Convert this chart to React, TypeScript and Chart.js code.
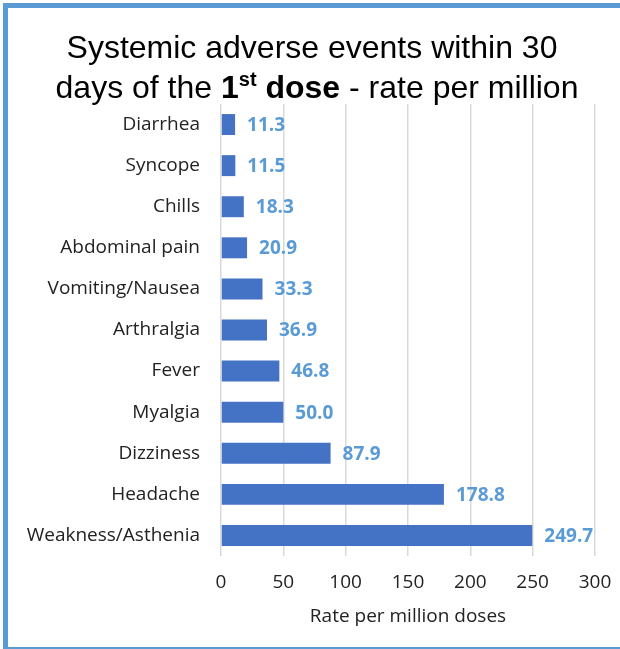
import React, { useEffect, useRef } from "react";
import { Chart, registerables } from "chart.js";

Chart.register(...registerables);

// Adverse event categories (top to bottom) and their rates per million doses
const events: string[] = [
  "Diarrhea",
  "Syncope",
  "Chills",
  "Abdominal pain",
  "Vomiting/Nausea",
  "Arthralgia",
  "Fever",
  "Myalgia",
  "Dizziness",
  "Headache",
  "Weakness/Asthenia",
];
const ratePerMillion: number[] = [11.3, 11.5, 18.3, 20.9, 33.3, 36.9, 46.8, 50.0, 87.9, 178.8, 249.7];

const axisMin = 0;
const axisMax = 300;
const axisStep = 50;
const axisTitle = "Rate per million doses";

const LABEL_FONT = "'Open Sans', 'DejaVu Sans', sans-serif";
const LABEL_SIZE = 19;
const BAR_BLUE = "#4472c4";
const LABEL_BLUE = "#5b9bd5";
const TEXT_DARK = "#222222";

// Writes each bar's value just past its end
const valueLabels = {
  id: "valueLabels",
  afterDatasetsDraw(chart: any) {
    const { ctx } = chart;
    const meta = chart.getDatasetMeta(0);
    const values = chart.data.datasets[0].data as number[];
    ctx.save();
    ctx.font = `bold ${LABEL_SIZE}px ${LABEL_FONT}`;
    ctx.fillStyle = LABEL_BLUE;
    ctx.textAlign = "left";
    ctx.textBaseline = "middle";
    meta.data.forEach((bar: any, i: number) => {
      ctx.fillText(values[i].toFixed(1), bar.x + 12, bar.y + 1);
    });
    ctx.restore();
  },
};

export default function App() {
  const canvasRef = useRef<HTMLCanvasElement | null>(null);

  useEffect(() => {
    const canvas = canvasRef.current;
    if (!canvas) return;
    const chart = new Chart(canvas, {
      type: "bar",
      data: {
        labels: events,
        datasets: [
          {
            data: ratePerMillion,
            backgroundColor: BAR_BLUE,
            barPercentage: 0.51,
            categoryPercentage: 1,
          },
        ],
      },
      options: {
        indexAxis: "y",
        responsive: false,
        animation: false,
        layout: { padding: { top: 104, right: 25, left: 0, bottom: 0 } },
        plugins: {
          legend: { display: false },
          tooltip: { enabled: false },
          title: { display: false },
        },
        scales: {
          x: {
            min: axisMin,
            max: axisMax,
            afterFit(scale: any) {
              scale.height = 93;
              // edge room is handled by the layout padding
              scale.paddingLeft = 0;
              scale.paddingRight = 0;
            },
            ticks: {
              stepSize: axisStep,
              padding: 15,
              color: TEXT_DARK,
              font: { family: LABEL_FONT, size: LABEL_SIZE },
            },
            grid: { color: "#d9d9d9", lineWidth: 1.5, drawTicks: false },
            border: { display: false },
            title: {
              display: true,
              text: axisTitle,
              color: TEXT_DARK,
              font: { family: LABEL_FONT, size: LABEL_SIZE },
              padding: { top: 0, bottom: 21 },
            },
          },
          y: {
            afterFit(scale: any) {
              scale.width = 221;
            },
            ticks: {
              padding: 21,
              color: TEXT_DARK,
              font: { family: LABEL_FONT, size: LABEL_SIZE },
            },
            grid: { display: false, drawTicks: false },
            border: { display: false },
          },
        },
      },
      plugins: [valueLabels],
    });
    return () => chart.destroy();
  }, []);

  const titleStyle: React.CSSProperties = {
    position: "absolute",
    width: 600,
    textAlign: "center",
    fontFamily: "'Liberation Sans', Arial, sans-serif",
    fontSize: 32,
    lineHeight: "32px",
    color: "#000",
    whiteSpace: "nowrap",
  };

  return (
    <div
      style={{
        position: "fixed",
        left: 0,
        top: 0,
        width: 620,
        height: 649,
        background: "#fff",
        overflow: "hidden",
      }}
    >
      <div
        style={{
          position: "absolute",
          left: 3,
          top: 3,
          width: 617,
          height: 646,
          boxSizing: "border-box",
          borderTop: "5px solid #5b9bd5",
          borderLeft: "5px solid #5b9bd5",
          borderBottom: "2px solid #5b9bd5",
        }}
      />
      <canvas ref={canvasRef} width={620} height={649} style={{ position: "absolute", left: 0, top: 0 }} />
      <div style={{ ...titleStyle, left: 12, top: 31 }}>Systemic adverse events within 30</div>
      <div style={{ ...titleStyle, left: 17, top: 71 }}>
        days of the <b>1<sup style={{ fontSize: 20, lineHeight: 0 }}>st</sup> dose</b> - rate per million
      </div>
    </div>
  );
}
